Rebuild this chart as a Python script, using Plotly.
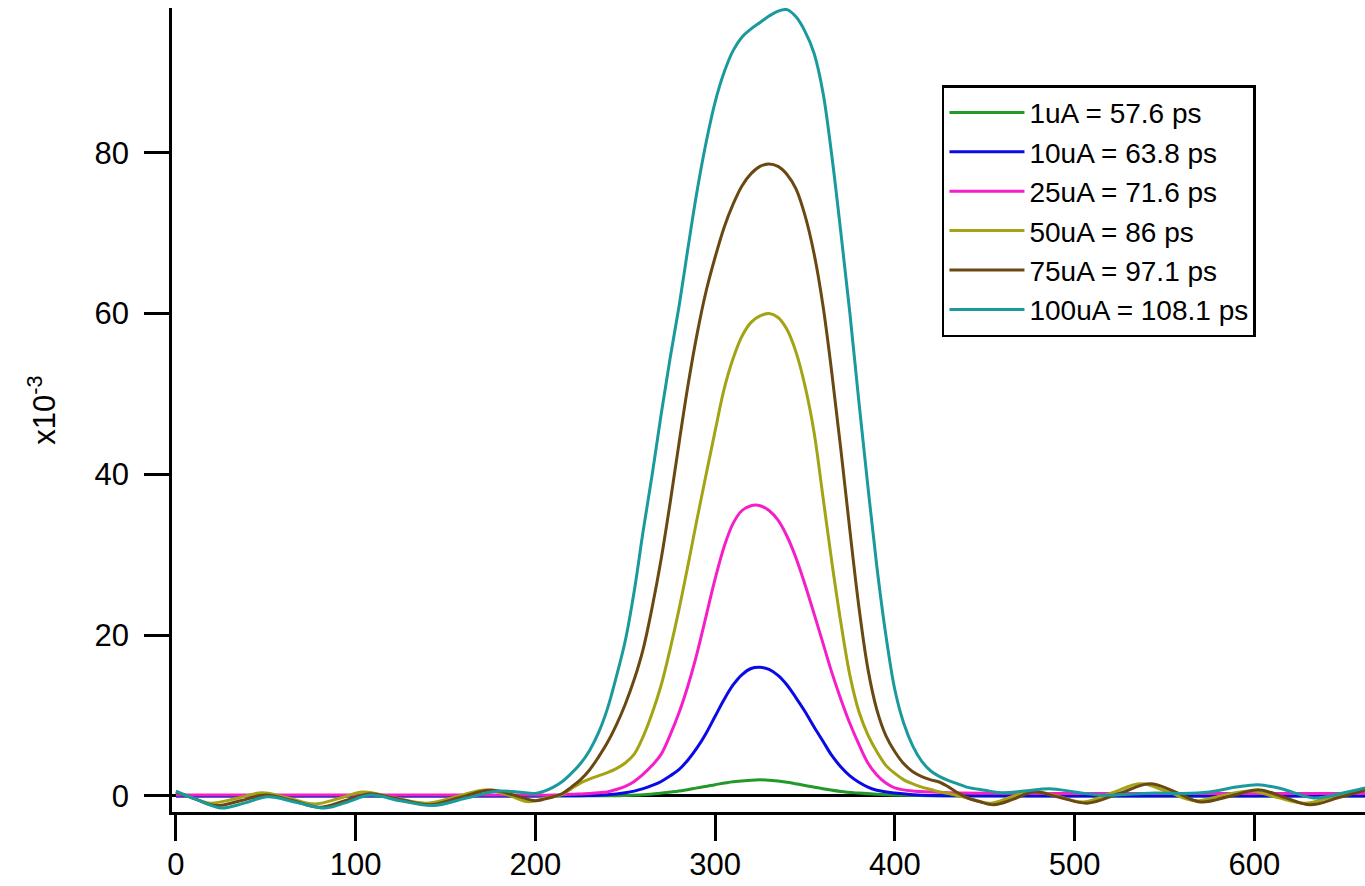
import plotly.graph_objects as go

# ---- data, y in units of 1e-3 ----
names = ["1uA = 57.6 ps", "10uA = 63.8 ps", "25uA = 71.6 ps",
         "50uA = 86 ps", "75uA = 97.1 ps", "100uA = 108.1 ps"]
colors = ["#22992a", "#0a0ae6", "#f51fc8", "#a3a314", "#6a4812", "#1a9a9c"]

x_1uA = [0, 100, 200, 240, 250, 260, 270, 280, 290, 300, 310, 320, 325, 330,
         340, 350, 360, 370, 380, 390, 400, 420, 500, 662]
y_1uA = [0, 0, 0, 0.02, 0.06, 0.15, 0.35, 0.6, 1.0, 1.4, 1.75, 1.95, 2.0, 1.95,
         1.7, 1.3, 0.9, 0.55, 0.35, 0.2, 0.1, 0.03, 0, 0]

x_10uA = [0, 100, 200, 230, 240,
          250, 255, 260, 265, 270, 275, 280, 285, 290, 295,
          300, 305, 310, 315, 320, 325, 330, 335, 340, 345,
          350, 355, 360, 365, 370, 375, 380, 385, 390,
          400, 410, 420, 500, 662]
y_10uA = [0, 0, 0, 0.05, 0.15,
          0.4, 0.6, 0.9, 1.3, 1.8, 2.5, 3.3, 4.5, 6.0, 7.8,
          9.9, 12.0, 13.8, 15.1, 15.85, 16.0, 15.75, 15.0, 13.8, 12.2,
          10.5, 8.6, 6.8, 5.0, 3.6, 2.5, 1.7, 1.1, 0.7,
          0.35, 0.15, 0.05, 0, 0]

x_25uA = [0, 100, 200, 210, 220, 230,
          235, 240, 245, 250, 255, 260, 265, 270, 275, 280,
          285, 290, 295, 300, 305, 310, 315, 320, 325, 330,
          335, 340, 345, 350, 355, 360, 365, 370, 375, 380,
          385, 390, 395, 400,
          410, 420, 430, 500, 662]
y_25uA = [0.1, 0.1, 0.1, 0.1, 0.2, 0.3,
          0.4, 0.5, 0.8, 1.2, 1.8, 2.7, 3.8, 5.2, 7.6, 10.4,
          13.8, 17.8, 22.4, 27.0, 31.0, 33.9, 35.5, 36.1, 36.1, 35.5,
          34.3, 32.3, 29.6, 26.3, 22.7, 19.0, 15.3, 12.0, 9.0, 6.4,
          4.1, 2.6, 1.6, 1.0,
          0.6, 0.5, 0.4, 0.3, 0.3]

x_50uA = [0, 10, 19, 34, 48, 63, 77, 91, 104, 121, 139, 156, 172, 185, 195, 200,
          205, 210, 215, 220, 225, 230, 235, 240, 245, 250,
          255, 260, 265, 270, 275, 280, 285, 290, 295, 300,
          305, 310, 315, 320, 325, 330, 335, 340, 345, 350,
          355, 360, 365, 370, 375, 380, 385, 390, 395, 400,
          405, 410, 415, 420, 425,
          430, 441, 453, 464, 475, 490, 505, 521, 537, 552, 567, 583, 598, 613,
          628, 645, 662]
y_50uA = [0.5, -0.3, -0.9, -0.3, 0.4, -0.3, -1.0, -0.3, 0.5, -0.2, -0.9, -0.1,
          0.75, 0.1, -0.7, -0.6,
          -0.3, -0.1, 0.2, 0.9, 1.6, 2.1, 2.5, 2.9, 3.4, 4.1,
          5.2, 7.4, 10.3, 13.8, 18.3, 23.3, 28.8, 34.5, 40.0, 45.4,
          50.6, 54.4, 57.2, 58.9, 59.7, 60.0, 59.5, 58.0, 55.2, 51.0,
          45.3, 37.2, 29.0, 21.5, 15.0, 10.5, 7.6, 5.5, 3.8, 2.8,
          2.0, 1.5, 1.1, 0.8, 0.5,
          0.3, -0.3, -0.9, -0.2, 0.6, 0.0, -0.75, 0.4, 1.5, 0.5, -0.6, 0.1, 0.6,
          -0.2, -0.9, 0.0, 0.9]

x_75uA = [0, 11, 22, 36, 50, 65, 80, 94, 107, 124, 141, 158, 175, 188, 200,
          205, 210, 215, 220, 225, 230, 235, 240, 245, 250,
          255, 260, 265, 270, 275, 280, 285, 290, 295, 300,
          305, 310, 315, 320, 325, 330, 335, 340, 345, 350,
          355, 360, 365, 370, 375, 380, 385, 390, 395, 400,
          405, 410, 415, 420, 425, 430, 435, 440,
          447, 455, 466, 477, 492, 507, 525, 542, 556, 570, 587, 603, 617, 631,
          647, 662]
y_75uA = [0.5, -0.4, -1.2, -0.6, 0.1, -0.6, -1.4, -0.6, 0.25, -0.4, -1.1, -0.2,
          0.75, 0.1, -0.6,
          -0.4, -0.1, 0.3, 1.1, 2.0, 3.2, 4.8, 6.6, 8.8, 11.4,
          14.5, 18.3, 23.5, 29.5, 36.5, 44.0, 51.2, 57.5, 62.8, 67.0,
          70.7, 73.6, 75.9, 77.4, 78.3, 78.6, 78.3, 77.3, 75.5, 72.2,
          67.5, 61.0, 52.5, 43.0, 33.0, 23.5, 15.8, 10.7, 7.5, 5.5,
          4.0, 3.0, 2.4, 2.0, 1.7, 1.1, 0.4, -0.2,
          -0.7, -1.1, -0.4, 0.5, -0.2, -0.9, 0.3, 1.5, 0.5, -0.75, 0.0, 0.75,
          -0.2, -1.1, -0.2, 0.75]

x_100uA = [0, 12, 25, 38, 51, 67, 83, 95, 108, 125, 143, 161, 179, 190, 200,
           205, 210, 215, 220, 225, 230, 235, 240, 245, 250,
           255, 260, 265, 270, 275, 280, 285, 290, 295, 300,
           305, 310, 315, 320, 325, 330, 335, 340, 345, 350,
           355, 360, 365, 370, 375, 380, 385, 390, 395, 400,
           405, 410, 415, 420, 425, 430, 435, 440,
           450, 459, 472, 486, 500, 514, 530, 545, 560, 575, 590, 602, 615, 633,
           648, 662]
y_100uA = [0.6, -0.5, -1.5, -0.9, -0.1, -0.8, -1.5, -0.8, 0.1, -0.6, -1.2, -0.3,
           0.6, 0.5, 0.3,
           0.6, 1.1, 1.8, 2.8, 4.0, 5.6, 7.8, 10.8, 14.8, 19.3,
           25.5, 33.0, 40.0, 47.5, 54.5, 61.0, 68.3, 75.3, 81.3, 86.3,
           90.0, 92.7, 94.4, 95.4, 96.2, 97.0, 97.6, 97.8, 96.9, 95.1,
           92.4, 87.5, 79.5, 70.0, 60.0, 49.0, 38.5, 28.5, 20.0, 13.2,
           9.0, 6.2, 4.3, 3.1, 2.4, 1.9, 1.5, 1.1,
           0.7, 0.4, 0.6, 0.9, 0.5, 0.1, 0.2, 0.35, 0.3, 0.5, 1.1, 1.4, 0.9,
           -0.25, 0.3, 1.0]

xs = [x_1uA, x_10uA, x_25uA, x_50uA, x_75uA, x_100uA]
ys = [y_1uA, y_10uA, y_25uA, y_50uA, y_75uA, y_100uA]
for a, b in zip(xs, ys):
    assert len(a) == len(b), (len(a), len(b))

x_ticks = [0, 100, 200, 300, 400, 500, 600]
y_ticks = [0, 20, 40, 60, 80]

FONT = "Liberation Sans, Arial, sans-serif"

fig = go.Figure()
for i, (name, col, x, y) in enumerate(zip(names, colors, xs, ys)):
    fig.add_trace(go.Scatter(
        x=x, y=y, mode="lines", name=name,
        line=dict(color=col, width=3, shape="spline", smoothing=1.0),
    ))

fig.update_layout(
    width=1365, height=886,
    margin=dict(l=172, r=0, t=8, b=74, autoexpand=False),
    paper_bgcolor="white", plot_bgcolor="white",
    font=dict(family=FONT, size=31, color="black"),
    showlegend=True,
    legend=dict(
        x=0.6454, y=0.904, xanchor="left", yanchor="top",
        bordercolor="black", borderwidth=2.5, bgcolor="white",
        font=dict(family=FONT, size=28, color="black"),
        traceorder="normal", itemwidth=75,
    ),
    xaxis=dict(
        range=[-2.2, 661.6], tickvals=x_ticks, showgrid=False, zeroline=False,
        showline=True, linecolor="black", linewidth=2.5, automargin=False,
        ticks="outside", ticklen=26, tickwidth=2.5, tickcolor="black",
        tickfont=dict(family=FONT, size=31), ticklabelstandoff=-3,
    ),
    yaxis=dict(
        range=[-2.0, 98.0], tickvals=y_ticks, showgrid=False, automargin=False,
        zeroline=True, zerolinecolor="black", zerolinewidth=2.5,
        showline=True, linecolor="black", linewidth=2.5,
        ticks="outside", ticklen=25, tickwidth=2.5, tickcolor="black",
        tickfont=dict(family=FONT, size=31), ticklabelstandoff=9,
        title=dict(text="x10<sup>-3</sup>", font=dict(family=FONT, size=31),
                   standoff=30),
    ),
)

# remove the default 8px page margin so the 1365x886 figure fills the window
fig.write_html("out.html", config={"displayModeBar": False},
               post_script="document.body.style.margin='0';")
